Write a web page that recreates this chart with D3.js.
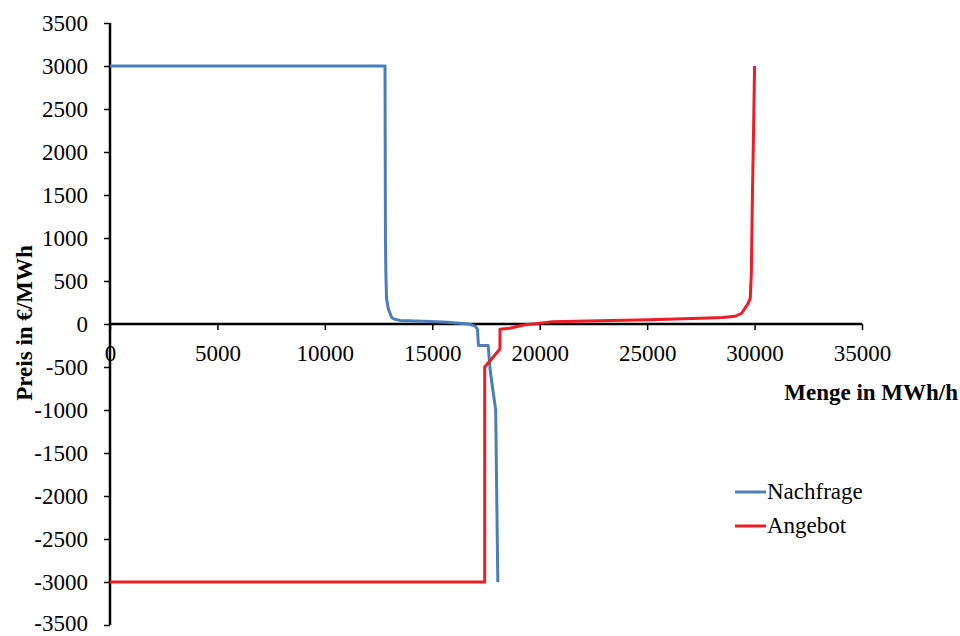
<!DOCTYPE html>
<html><head><meta charset="utf-8">
<script src="https://cdn.jsdelivr.net/npm/d3@7"></script>
<style>body{margin:0;background:#fff}svg{display:block}</style>
</head><body>
<svg id="c" width="960" height="636"></svg>
<script>
// Data
const demandQty   = [0, 12800, 12820, 12840, 12870, 12950, 13100, 13200, 13500, 14900, 15700, 16700, 17000, 17100, 17150, 17600, 17700, 17950, 18050];
const demandPrice = [3000, 3000, 1000, 600, 300, 180, 80, 60, 40, 28, 20, 0, -25, -60, -250, -250, -550, -1000, -3000];
const supplyQty   = [0, 17440, 17440, 18150, 18150, 18600, 19250, 20000, 20600, 22800, 25100, 27500, 28500, 29100, 29400, 29700, 29800, 29850, 29900, 29950, 30000];
const supplyPrice = [-3000, -3000, -500, -290, -60, -50, -12, 8, 27, 38, 50, 66, 75, 90, 125, 240, 300, 600, 1500, 2200, 3000];
const xTicks = [0, 5000, 10000, 15000, 20000, 25000, 30000, 35000];
const yTicks = [-3500, -3000, -2500, -2000, -1500, -1000, -500, 0, 500, 1000, 1500, 2000, 2500, 3000, 3500];
const seriesNames = ["Nachfrage", "Angebot"];
const seriesColors = ["#4A7EBB", "#EE1C25"];

const FS = 23;
const FONT = "'Liberation Serif', 'Times New Roman', serif";
const svg = d3.select("#c");
const x = d3.scaleLinear().domain([0, 35000]).range([110, 862]);
const y = d3.scaleLinear().domain([-3500, 3500]).range([625, 23]);
const fmt = d => String(d);

function styleText(sel) {
  return sel.style("font-family", FONT).style("font-size", FS + "px").attr("fill", "#000");
}

// Y axis
const yAxis = svg.append("g").attr("transform", `translate(${x(0)},0)`)
  .call(d3.axisLeft(y).tickValues(yTicks).tickSize(6).tickPadding(16).tickFormat(fmt));
yAxis.select(".domain").attr("stroke", "#000").attr("stroke-width", 2.5).attr("d", `M0,${y(3500)}V${y(-3500)}`);
yAxis.selectAll(".tick line").attr("stroke", "#000").attr("stroke-width", 1.5);
styleText(yAxis.selectAll(".tick text"));
yAxis.selectAll(".tick text").filter(d => d === -3500).attr("dy", "0.22em");

// X axis at y=0
const xAxis = svg.append("g").attr("transform", `translate(0,${y(0)})`)
  .call(d3.axisBottom(x).tickValues(xTicks).tickSize(6).tickPadding(15).tickFormat(fmt));
xAxis.select(".domain").attr("stroke", "#000").attr("stroke-width", 2.5).attr("d", `M${x(0)},0H${x(35000)}`);
xAxis.selectAll(".tick line").attr("stroke", "#000").attr("stroke-width", 1.5);
styleText(xAxis.selectAll(".tick text"));

// Lines
const line = d3.line().x(d => x(d[0])).y(d => y(d[1]));
const demand = demandQty.map((q, i) => [q, demandPrice[i]]);
const supply = supplyQty.map((q, i) => [q, supplyPrice[i]]);
svg.append("path").datum(demand).attr("d", line).attr("fill", "none")
  .attr("stroke", seriesColors[0]).attr("stroke-width", 3).attr("stroke-linejoin", "round");
svg.append("path").datum(supply).attr("d", line).attr("fill", "none")
  .attr("stroke", seriesColors[1]).attr("stroke-width", 3).attr("stroke-linejoin", "round");

// Axis titles
styleText(svg.append("text").attr("transform", "translate(32,323) rotate(-90)").attr("text-anchor", "middle"))
  .attr("font-weight", "bold").text("Preis in €/MWh");
styleText(svg.append("text").attr("x", 958).attr("y", 400).attr("text-anchor", "end"))
  .attr("font-weight", "bold").text("Menge in MWh/h");

// Legend
const lg = svg.append("g");
seriesNames.forEach((n, i) => {
  const yy = 492 + i * 34;
  lg.append("line").attr("x1", 735).attr("x2", 766).attr("y1", yy).attr("y2", yy)
    .attr("stroke", seriesColors[i]).attr("stroke-width", 3);
  styleText(lg.append("text").attr("x", 767).attr("y", yy + 7)).text(n);
});
</script>
</body></html>
